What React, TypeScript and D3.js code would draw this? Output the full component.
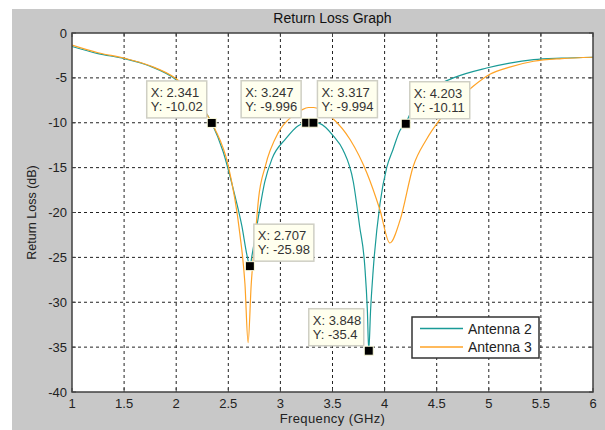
import * as d3 from 'd3';
import {useMemo} from 'react';

const WIDTH = 605;
const HEIGHT = 430;

// Antenna 2 (teal)
const freq2 = [1.0, 1.25, 1.5, 1.75, 2.0, 2.2, 2.341, 2.45, 2.55, 2.63, 2.68, 2.707, 2.73, 2.79, 2.85, 2.92, 3.05, 3.175, 3.247, 3.28, 3.317, 3.38, 3.51, 3.6, 3.7, 3.76, 3.81, 3.835, 3.848, 3.865, 3.89, 3.956, 4.02, 4.08, 4.15, 4.203, 4.24, 4.35, 4.5, 4.66, 4.98, 5.2, 5.43, 5.7, 6.0];
const loss2 = [-1.5, -2.3, -2.85, -3.7, -5.2, -7.5, -10.02, -13.2, -17.5, -21.5, -24.8, -25.98, -24.6, -20.4, -16.6, -14.0, -11.8, -10.3, -9.996, -9.9, -9.994, -10.1, -11.5, -13.0, -16.6, -21.5, -26, -31, -35.4, -31, -26.5, -19, -15, -13, -10.8, -10.11, -9.1, -7.4, -5.9, -5.0, -3.9, -3.35, -2.97, -2.8, -2.7];

// Antenna 3 (orange)
const freq3 = [1.0, 1.25, 1.5, 1.75, 2.0, 2.2, 2.341, 2.376, 2.5, 2.61, 2.66, 2.69, 2.72, 2.76, 2.79, 2.855, 2.98, 3.11, 3.2, 3.27, 3.32, 3.5, 3.67, 3.83, 3.955, 4.05, 4.15, 4.275, 4.4, 4.53, 4.7, 4.85, 5.01, 5.2, 5.43, 5.7, 6.0];
const loss3 = [-1.35, -2.2, -2.8, -3.65, -5.1, -7.4, -10.0, -10.8, -14.8, -22.3, -28, -34.5, -28, -22.5, -18.5, -14.85, -11.1, -9.3, -8.6, -8.3, -8.3, -9.5, -11.9, -15.6, -19.7, -23.4, -20.8, -14.85, -11.9, -9.66, -7.5, -5.94, -4.6, -3.8, -3.15, -2.85, -2.7];

const seriesNames = ['Antenna 2', 'Antenna 3'];
const seriesColors = ['#1a9b97', '#ffa326'];

const xTicks = [1, 1.5, 2, 2.5, 3, 3.5, 4, 4.5, 5, 5.5, 6];
const yTicks = [0, -5, -10, -15, -20, -25, -30, -35, -40];

// data tips: x, y, placement
const tipX = [2.341, 3.247, 3.317, 4.203, 2.707, 3.848];
const tipY = ['-10.02', '-9.996', '-9.994', '-10.11', '-25.98', '-35.4'];
const tipSide = ['left', 'left', 'right', 'right', 'right', 'left'];

const M = {left: 72, top: 33, right: 593, bottom: 392};
const FONT = '"Liberation Sans", Arial, sans-serif';

function App() {
  const x = useMemo(() => d3.scaleLinear().domain([1, 6]).range([M.left, M.right]), []);
  const y = useMemo(() => d3.scaleLinear().domain([0, -40]).range([M.top, M.bottom]), []);

  const line = d3
    .line<[number, number]>()
    .x((d) => x(d[0]))
    .y((d) => y(d[1]))
    .curve(d3.curveMonotoneX);

  const paths = [
    line(freq2.map((f, i) => [f, loss2[i]] as [number, number])),
    line(freq3.map((f, i) => [f, loss3[i]] as [number, number])),
  ];

  return (
    <svg width={WIDTH} height={HEIGHT} style={{position: 'absolute', left: 0, top: 0}} fontFamily={FONT}>
      <rect x={0} y={0} width={WIDTH} height={HEIGHT} fill="#fff" />
      <rect x={12} y={9} width={WIDTH - 12} height={HEIGHT - 9} fill="#c8c8c8" />
      <rect x={M.left} y={M.top} width={M.right - M.left} height={M.bottom - M.top} fill="#fff" />
      <defs>
        <clipPath id="plot">
          <rect x={M.left} y={M.top} width={M.right - M.left} height={M.bottom - M.top} />
        </clipPath>
      </defs>

      {/* grid */}
      <g stroke="#222" strokeWidth={1} strokeDasharray="3,3">
        {xTicks.slice(1, -1).map((t) => (
          <line key={t} x1={x(t)} x2={x(t)} y1={M.top} y2={M.bottom} />
        ))}
        {yTicks.slice(1, -1).map((t) => (
          <line key={t} x1={M.left} x2={M.right} y1={y(t)} y2={y(t)} />
        ))}
      </g>

      {/* curves */}
      <g clipPath="url(#plot)" fill="none" strokeWidth={1.2}>
        {paths.map((p, i) => (
          <path key={i} d={p!} stroke={seriesColors[i]} />
        ))}
      </g>

      {/* axes box and ticks */}
      <rect x={M.left} y={M.top} width={M.right - M.left} height={M.bottom - M.top} fill="none" stroke="#404040" strokeWidth={1.5} />
      <g stroke="#404040" strokeWidth={1}>
        {xTicks.map((t) => (
          <g key={t}>
            <line x1={x(t)} x2={x(t)} y1={M.bottom} y2={M.bottom - 4} />
            <line x1={x(t)} x2={x(t)} y1={M.top} y2={M.top + 4} />
          </g>
        ))}
        {yTicks.map((t) => (
          <g key={t}>
            <line x1={M.left} x2={M.left + 4} y1={y(t)} y2={y(t)} />
            <line x1={M.right} x2={M.right - 4} y1={y(t)} y2={y(t)} />
          </g>
        ))}
      </g>

      <g fontSize={13} fill="#222">
        {xTicks.map((t) => (
          <text key={t} x={x(t)} y={M.bottom + 16} textAnchor="middle">
            {t}
          </text>
        ))}
        {yTicks.map((t) => (
          <text key={t} x={M.left - 5} y={y(t) + 4.5} textAnchor="end">
            {t}
          </text>
        ))}
      </g>

      <text x={(M.left + M.right) / 2} y={23} textAnchor="middle" fontSize={14} fill="#111">
        Return Loss Graph
      </text>
      <text x={(M.left + M.right) / 2} y={423} textAnchor="middle" fontSize={13} letterSpacing={0.4} fill="#222">
        Frequency (GHz)
      </text>
      <text
        transform={`translate(36,${(M.top + M.bottom) / 2}) rotate(-90)`}
        textAnchor="middle"
        fontSize={12.5}
        fill="#222"
      >
        Return Loss (dB)
      </text>

      {/* data tips */}
      {tipX.map((tx, i) => {
        const px = x(tx);
        const py = y(+tipY[i]);
        const lx = `X: ${tx}`;
        const ly = `Y: ${tipY[i]}`;
        const w = Math.max(lx.length, ly.length) * 5 + 15;
        const h = 37;
        const bx = tipSide[i] === 'left' ? px - 5 - w : px + 4;
        const by = py - 5 - h;
        return (
          <g key={i}>
            <rect x={bx} y={by} width={w} height={h} fill="#ffffee" stroke="#cfcfc4" strokeWidth={1.5} />
            <text x={bx + 4} y={by + 16} fontSize={13} fill="#333">
              {lx}
            </text>
            <text x={bx + 4} y={by + 30} fontSize={13} fill="#333">
              {ly}
            </text>
            <rect x={px - 4.5} y={py - 4.5} width={9} height={9} fill="#000" stroke="#ffffe0" strokeWidth={1} />
          </g>
        );
      })}

      {/* legend */}
      <g>
        <rect x={412} y={317} width={127} height={41} fill="#fff" stroke="#333" strokeWidth={1.5} />
        {seriesNames.map((n, i) => (
          <g key={n}>
            <line x1={420} x2={463} y1={328.5 + i * 18.5} y2={328.5 + i * 18.5} stroke={seriesColors[i]} strokeWidth={1.3} />
            <text x={468} y={333.5 + i * 18.5} fontSize={14} fill="#222">
              {n}
            </text>
          </g>
        ))}
      </g>
    </svg>
  );
}

export default App;
